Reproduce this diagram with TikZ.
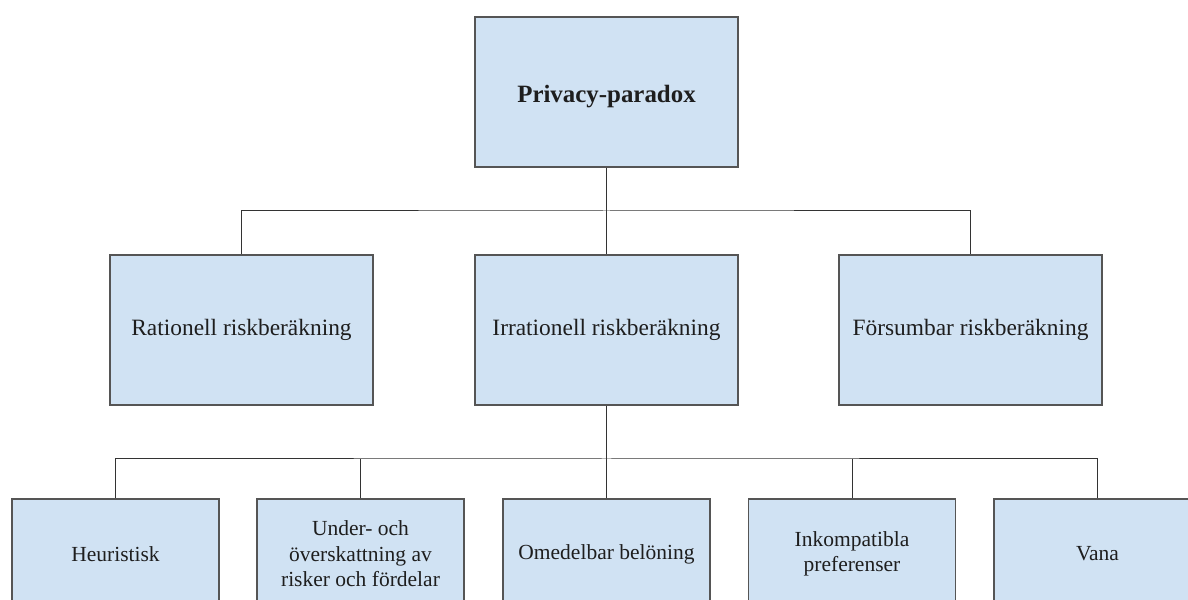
\documentclass[tikz,border=0pt]{standalone}
\usepackage{fontspec}
\setmainfont{Liberation Serif}
\definecolor{boxfill}{HTML}{D0E2F3}
\definecolor{boxline}{HTML}{555555}
\definecolor{conline}{HTML}{333333}
\definecolor{txt}{HTML}{1E1E1E}
\tikzset{
  box/.style={draw=boxline, line width=1.3bp, fill=boxfill, rectangle, inner sep=0pt,
    align=center, text=txt},
  bigbox/.style={box, minimum width=263bp, minimum height=150bp, font=\fontsize{23.4bp}{27bp}\selectfont},
  smallbox/.style={box, minimum width=207bp, minimum height=110bp, font=\fontsize{21.5bp}{25.5bp}\selectfont},
  con/.style={draw=conline, line width=1bp}
}
\begin{document}
\begin{tikzpicture}[x=1bp,y=1bp]
\useasboundingbox (0,0) rectangle (1188,600);
\fill[white] (-5,-5) rectangle (1193,605);
% top
\node[bigbox, font=\fontsize{24.9bp}{28bp}\selectfont\bfseries, text height=26bp] (top) at (606.5,508) {Privacy-paradox};
% middle row
\node[bigbox] (rat) at (241.5,270) {Rationell riskberäkning};
\node[bigbox] (irr) at (606.5,270) {Irrationell riskberäkning};
\node[bigbox] (fors) at (970.5,270) {Försumbar riskberäkning};
% bottom row
\node[smallbox] (b1) at (115.5,46) {Heuristisk};
\node[smallbox] (b2) at (360.5,46) {Under- och\\överskattning av\\risker och fördelar};
\node[smallbox] (b3) at (606.5,46) {Omedelbar belöning};
\node[smallbox] (b4) at (852,46) {Inkompatibla\\preferenser};
\node[smallbox] (b5) at (1097.5,46) {Vana};
% junctions
\coordinate (j1) at (606.5,389);
\coordinate (j2) at (606.5,141);
% connectors
\draw[con] (top.south) -- (irr.north);
\draw[con] (rat.north) |- (j1) -| (fors.north);
\draw[con] (irr.south) -- (b3.north);
\draw[con] (b1.north) |- (j2) -| (b5.north);
\draw[con] (b2.north) -- (b2.north |- j2);
\draw[con] (b4.north) -- (b4.north |- j2);
\end{tikzpicture}
\end{document}
